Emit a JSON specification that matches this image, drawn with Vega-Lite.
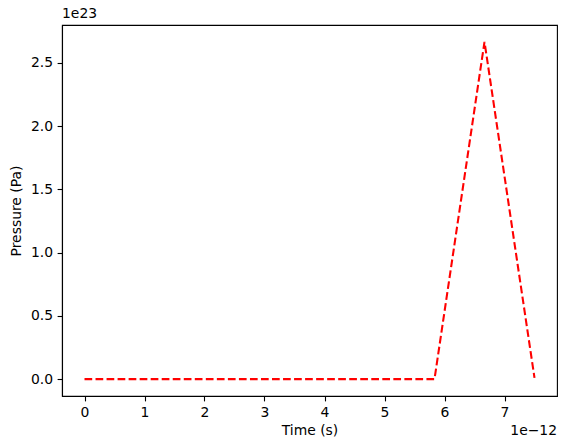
{
  "$schema": "https://vega.github.io/schema/vega-lite/v6.json",
  "width": 495,
  "height": 371,
  "autosize": {"type": "none"},
  "padding": {"left": 62, "top": 25, "right": 10, "bottom": 52},
  "background": "white",
  "config": {
    "font": "DejaVu Sans",
    "view": {"stroke": "black", "strokeWidth": 1.1},
    "axis": {
      "domainColor": "black", "domainWidth": 1.1,
      "tickColor": "black", "tickWidth": 1.1, "tickSize": 4.9,
      "labelFont": "DejaVu Sans", "labelFontSize": 13.9, "labelColor": "black", "labelPadding": 4.5,
      "titleFont": "DejaVu Sans", "titleFontSize": 13.9, "titleFontWeight": "normal", "titleColor": "black",
      "grid": false
    }
  },
  "title": {"text": "1e23", "anchor": "start", "frame": "group", "fontSize": 13.9, "fontWeight": "normal", "font": "DejaVu Sans", "color": "black", "offset": 4},
  "layer": [
    {
      "data": {
        "values": [
          {"time": 0, "pressure": 0},
          {"time": 0.8333e-12, "pressure": 0},
          {"time": 1.6667e-12, "pressure": 0},
          {"time": 2.5e-12, "pressure": 0},
          {"time": 3.3333e-12, "pressure": 0},
          {"time": 4.1667e-12, "pressure": 0},
          {"time": 5.0e-12, "pressure": 0},
          {"time": 5.8333e-12, "pressure": 0},
          {"time": 6.6667e-12, "pressure": 2.667e23},
          {"time": 7.5e-12, "pressure": 0.01e23}
        ]
      },
      "mark": {"type": "line", "color": "#ff0000", "strokeWidth": 2.08, "strokeDash": [7.7, 3.33]},
      "encoding": {
        "x": {
          "field": "time", "type": "quantitative",
          "scale": {"domain": [-0.375e-12, 7.875e-12], "nice": false, "zero": false},
          "axis": {"values": [0, 1e-12, 2e-12, 3e-12, 4e-12, 5e-12, 6e-12, 7e-12], "labelExpr": "format(datum.value*1e12, '.0f')", "title": "Time (s)", "titlePadding": 4}
        },
        "y": {
          "field": "pressure", "type": "quantitative",
          "scale": {"domain": [-0.1333e23, 2.8e23], "nice": false, "zero": false},
          "axis": {"values": [0, 0.5e23, 1e23, 1.5e23, 2e23, 2.5e23], "labelExpr": "format(datum.value/1e23, '.1f')", "title": "Pressure (Pa)", "titlePadding": 7}
        }
      }
    },
    {
      "data": {"values": [{"label": "1e−12"}]},
      "mark": {"type": "text", "align": "right", "baseline": "middle", "fontSize": 13.9, "fontWeight": "normal", "font": "DejaVu Sans", "color": "black"},
      "encoding": {
        "x": {"datum": 7.875e-12, "type": "quantitative"},
        "y": {"value": 406},
        "text": {"field": "label"}
      }
    }
  ]
}
